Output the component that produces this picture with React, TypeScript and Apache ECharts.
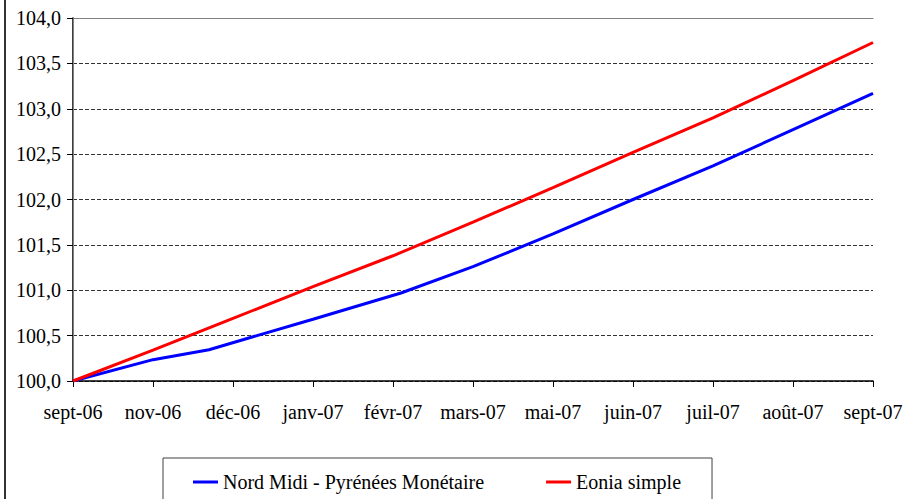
import React, { useEffect, useRef } from "react";
import * as echarts from "echarts";

const monthLabels = ["sept-06", "nov-06", "déc-06", "janv-07", "févr-07", "mars-07", "mai-07", "juin-07", "juil-07", "août-07", "sept-07"];
const nordMidiPositions = [0, 1, 1.7, 2.3, 3, 4.1, 5, 6, 7, 8, 9, 10];
const nordMidiValues = [100.0, 100.235, 100.345, 100.5, 100.68, 100.97, 101.26, 101.62, 102.0, 102.37, 102.77, 103.17];
const eoniaPositions = [0, 1, 2, 3, 4, 5, 6, 7, 8, 9, 10];
const eoniaValues = [100.0, 100.34, 100.69, 101.04, 101.38, 101.75, 102.13, 102.52, 102.9, 103.31, 103.73];
const seriesNames = ["Nord Midi - Pyrénées Monétaire", "Eonia simple"];

const FONT = "Liberation Serif";

export default function App() {
  const ref = useRef<HTMLDivElement>(null);
  useEffect(() => {
    if (!ref.current) return;
    const chart = echarts.init(ref.current, null, { renderer: "svg" });
    const pairs = (xs: number[], vals: number[]) => xs.map((x, i) => [x, vals[i]]);
    chart.setOption({
      animation: false,
      grid: { left: 73, top: 18, right: 34, bottom: 118 },
      xAxis: [
        {
          type: "value",
          min: 0,
          max: 10,
          interval: 1,
          axisLine: { show: true, onZero: false, lineStyle: { color: "#000", width: 1.5 } },
          axisTick: { show: true, length: 6, lineStyle: { color: "#000" } },
          splitLine: { show: false },
          axisLabel: {
            fontFamily: FONT,
            fontSize: 20,
            color: "#000",
            margin: 21,
            formatter: (v: number) => monthLabels[Math.round(v)] || "",
          },
        },
        {
          type: "value",
          position: "top",
          min: 0,
          max: 10,
          interval: 1,
          axisLine: { show: true, onZero: false, lineStyle: { color: "#808080", width: 1 } },
          axisTick: { show: false },
          axisLabel: { show: false },
          splitLine: { show: false },
        },
      ],
      yAxis: [
        {
          type: "value",
          min: 100,
          max: 104,
          interval: 0.5,
          axisLine: { show: true, lineStyle: { color: "#000", width: 1.5 } },
          axisTick: { show: true, length: 6, lineStyle: { color: "#000" } },
          splitLine: { show: true, lineStyle: { color: "#333", type: "dashed", width: 1 } },
          axisLabel: {
            fontFamily: FONT,
            fontSize: 20,
            color: "#000",
            margin: 12,
            formatter: (v: number) => v.toFixed(1).replace(".", ","),
          },
        },
        {
          type: "value",
          position: "right",
          min: 100,
          max: 104,
          interval: 0.5,
          axisLine: { show: true, lineStyle: { color: "#808080", width: 1 } },
          axisTick: { show: false },
          axisLabel: { show: false },
          splitLine: { show: false },
        },
      ],
      legend: {
        left: 163,
        top: 458,
        padding: [14, 31, 30, 30],
        itemGap: 62,
        itemWidth: 25,
        itemHeight: 3,
        icon: "rect",
        borderColor: "#404040",
        borderWidth: 1,
        textStyle: { fontFamily: FONT, fontSize: 20, color: "#000" },
        data: seriesNames,
      },
      series: [
        {
          name: seriesNames[0],
          type: "line",
          data: pairs(nordMidiPositions, nordMidiValues),
          showSymbol: false,
          lineStyle: { color: "#0000ff", width: 3 },
          itemStyle: { color: "#0000ff" },
        },
        {
          name: seriesNames[1],
          type: "line",
          data: pairs(eoniaPositions, eoniaValues),
          showSymbol: false,
          lineStyle: { color: "#ff0000", width: 3 },
          itemStyle: { color: "#ff0000" },
        },
      ],
    });
    return () => chart.dispose();
  }, []);
  return (
    <div style={{ position: "fixed", left: 0, top: 0, width: 907, height: 499, background: "#fff" }}>
      <div ref={ref} style={{ position: "absolute", left: 0, top: 0, width: 907, height: 499 }} />
      <div style={{ position: "absolute", left: 4, top: 0, width: 1.5, height: 499, background: "#333" }} />
    </div>
  );
}
